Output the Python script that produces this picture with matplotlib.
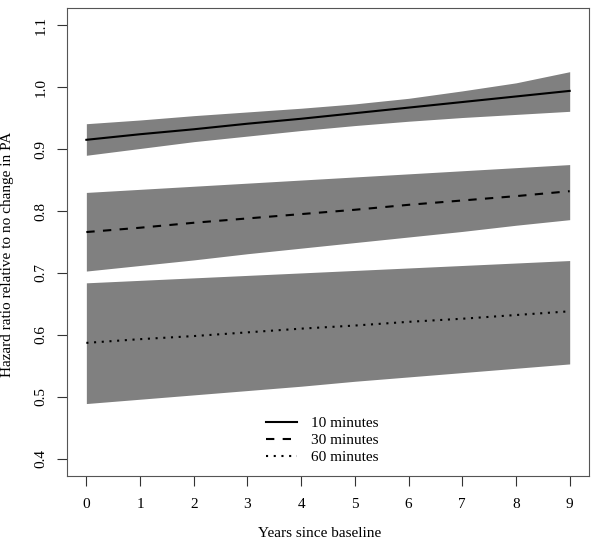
import matplotlib
matplotlib.use("Agg")
import matplotlib.pyplot as plt
import numpy as np

plt.rcParams['font.family'] = ['Liberation Serif', 'DejaVu Serif']

# years since baseline
years = [0, 1, 2, 3, 4, 5, 6, 7, 8, 9]

# 10 minutes
hr10 = [0.915, 0.924, 0.932, 0.941, 0.949, 0.958, 0.967, 0.976, 0.985, 0.994]
up10 = [0.941, 0.947, 0.954, 0.960, 0.966, 0.973, 0.982, 0.994, 1.007, 1.025]
lo10 = [0.890, 0.901, 0.912, 0.921, 0.930, 0.938, 0.945, 0.951, 0.956, 0.961]

# 30 minutes
hr30 = [0.766, 0.773, 0.781, 0.788, 0.795, 0.802, 0.810, 0.817, 0.824, 0.832]
up30 = [0.830, 0.835, 0.840, 0.845, 0.850, 0.855, 0.860, 0.865, 0.870, 0.875]
lo30 = [0.703, 0.712, 0.721, 0.731, 0.740, 0.749, 0.758, 0.767, 0.777, 0.786]

# 60 minutes
hr60 = [0.587, 0.593, 0.598, 0.604, 0.610, 0.615, 0.621, 0.626, 0.632, 0.638]
up60 = [0.684, 0.688, 0.692, 0.696, 0.700, 0.704, 0.708, 0.712, 0.716, 0.720]
lo60 = [0.489, 0.496, 0.503, 0.510, 0.517, 0.525, 0.532, 0.539, 0.546, 0.553]

labels = ["10 minutes", "30 minutes", "60 minutes"]
xticks = [0, 1, 2, 3, 4, 5, 6, 7, 8, 9]
yticks = [0.4, 0.5, 0.6, 0.7, 0.8, 0.9, 1.0, 1.1]

fig = plt.figure(figsize=(6.0, 5.43), dpi=100)
ax = fig.add_axes([0.1117, 0.1234, 0.87, 0.862])

band = '#808080'
for lo, up in [(lo10, up10), (lo30, up30), (lo60, up60)]:
    ax.fill_between(years, lo, up, color=band, lw=0)

ax.plot(years, hr10, color='black', lw=1.5, label=labels[0])
ax.plot(years, hr30, color='black', lw=1.5, dashes=(4, 4), label=labels[1])
ax.plot(years, hr60, color='black', lw=1.5, dashes=(1, 2.7), label=labels[2])

ax.set_xlim(-0.36, 9.36)
ax.set_ylim(0.372, 1.128)
ax.set_xticks(xticks)
ax.set_xticklabels([str(t) for t in xticks])
ax.set_yticks(yticks)
ax.set_yticklabels([f"{t:.1f}" for t in yticks], rotation=90, va='center')
ax.tick_params(axis='both', direction='out', length=7, width=0.8,
               color='#333333', labelsize=11)
ax.tick_params(axis='x', pad=9)
ax.tick_params(axis='y', pad=7)

for s in ax.spines.values():
    s.set_color('#555555')
    s.set_linewidth(0.8)

ax.set_xlabel("Years since baseline", fontsize=11)
ax.set_ylabel("Hazard ratio relative to no change in PA", fontsize=11)
ax.xaxis.set_label_coords(0.484, -0.11)
ax.yaxis.set_label_coords(-0.101, 0.474)

leg = ax.legend(loc='lower left', bbox_to_anchor=(0.37, 0.012), frameon=False,
                fontsize=11, handlelength=2.0, handletextpad=0.9,
                labelspacing=0.22, borderaxespad=0)

fig.savefig("out.png", dpi=100)
